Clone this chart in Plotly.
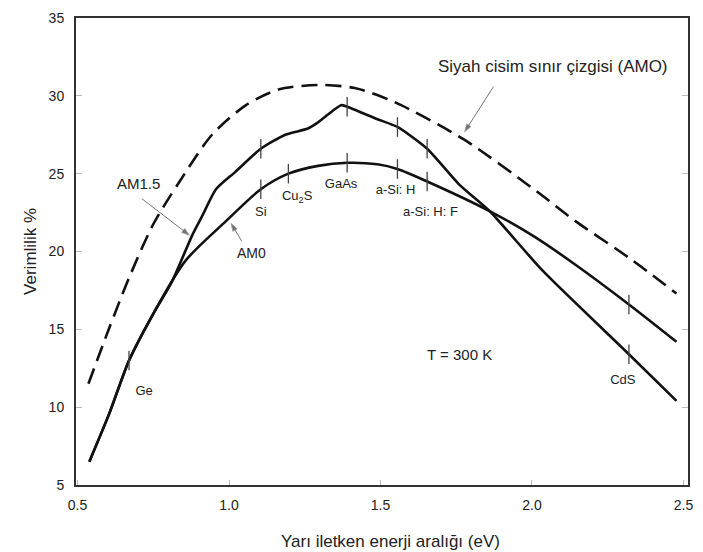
import plotly.graph_objects as go

# Blackbody limit (AM0) - dashed
bb_x = [0.536, 0.605, 0.67, 0.75, 0.837, 0.944, 1.056, 1.163, 1.294, 1.415, 1.546, 1.775, 2.013, 2.14, 2.32, 2.477]
bb_y = [11.5, 15.1, 18.3, 21.75, 24.5, 27.5, 29.4, 30.4, 30.7, 30.5, 29.6, 27.2, 23.9, 22.0, 19.6, 17.3]

# AM0 curve (smooth lower one)
am0_x = [0.539, 0.605, 0.67, 0.75, 0.856, 0.99, 1.105, 1.196, 1.294, 1.39, 1.49, 1.556, 1.654, 1.86, 2.0, 2.14, 2.32, 2.477]
am0_y = [6.5, 9.6, 13.0, 16.0, 19.4, 21.95, 24.0, 25.0, 25.5, 25.7, 25.6, 25.3, 24.5, 22.6, 21.05, 19.2, 16.6, 14.2]

# AM1.5 curve
am15_x = [0.539, 0.605, 0.67, 0.75, 0.81, 0.88, 0.912, 0.957, 1.02, 1.105, 1.186, 1.26, 1.294, 1.37, 1.39, 1.49, 1.556, 1.654, 1.76, 1.86, 2.036, 2.32, 2.477]
am15_y = [6.5, 9.6, 13.0, 16.0, 18.0, 21.1, 22.3, 24.0, 25.1, 26.6, 27.5, 27.9, 28.3, 29.4, 29.3, 28.5, 28.0, 26.6, 24.3, 22.6, 18.75, 13.4, 10.4]

# Material tick marks on curves
tick15_x = [0.67, 1.105, 1.39, 1.556, 1.654, 2.32]
tick15_y = [13.0, 26.6, 29.3, 28.0, 26.6, 13.4]
tick0_x = [1.105, 1.196, 1.39, 1.556, 1.654, 2.32]
tick0_y = [24.0, 25.0, 25.7, 25.3, 24.5, 16.6]

# Material labels
mat_labels = ["Ge", "Si", "Cu<sub>2</sub>S", "GaAs", "a-Si: H", "a-Si: H: F", "CdS"]
mat_x = [0.72, 1.105, 1.225, 1.37, 1.55, 1.665, 2.30]
mat_y = [11.0, 22.5, 23.5, 24.3, 23.9, 22.5, 11.7]

# Annotation texts and arrows (tail -> tip)
note_texts = ["T = 300 K", "Siyah cisim sınır çizgisi (AMO)", "AM1.5", "AM0"]
note_x = [1.76, 2.07, 0.70, 1.075]
note_y = [13.4, 31.9, 24.4, 19.9]
arrow_bb_x = [1.873, 1.778]
arrow_bb_y = [30.59, 27.7]
arrow_am15_x = [0.712, 0.869]
arrow_am15_y = [23.4, 21.05]
arrow_am0_x = [1.042, 1.007]
arrow_am0_y = [20.67, 21.8]

x_title = "Yarı iletken enerji aralığı (eV)"
y_title = "Verimlilik %"
x_ticks = [0.5, 1.0, 1.5, 2.0, 2.5]
x_tick_text = ["0.5", "1.0", "1.5", "2.0", "2.5"]
y_ticks = [5, 10, 15, 20, 25, 30, 35]

FONT = "Liberation Sans, Arial, sans-serif"
TXT = "#222222"

fig = go.Figure()
fig.add_trace(go.Scatter(x=bb_x, y=bb_y, mode="lines",
                         line=dict(color="#111111", width=2.6, dash="16px,8px", shape="spline", smoothing=0.8),
                         hoverinfo="skip", showlegend=False))
fig.add_trace(go.Scatter(x=am0_x, y=am0_y, mode="lines",
                         line=dict(color="#111111", width=2.6, shape="spline", smoothing=0.8),
                         hoverinfo="skip", showlegend=False))
fig.add_trace(go.Scatter(x=am15_x, y=am15_y, mode="lines",
                         line=dict(color="#111111", width=2.6, shape="spline", smoothing=0.6),
                         hoverinfo="skip", showlegend=False))
for tx, ty in ((tick15_x, tick15_y), (tick0_x, tick0_y)):
    fig.add_trace(go.Scatter(x=tx, y=ty, mode="markers",
                             marker=dict(symbol="line-ns", size=14, line=dict(color="#444444", width=1.3)),
                             hoverinfo="skip", showlegend=False))
fig.add_trace(go.Scatter(x=mat_x, y=mat_y, mode="text", text=mat_labels,
                         textfont=dict(family=FONT, size=13, color=TXT),
                         hoverinfo="skip", showlegend=False))

for ax_, ay_ in ((arrow_bb_x, arrow_bb_y), (arrow_am15_x, arrow_am15_y), (arrow_am0_x, arrow_am0_y)):
    fig.add_trace(go.Scatter(x=ax_, y=ay_, mode="lines+markers",
                             line=dict(color="#777777", width=1),
                             marker=dict(symbol="arrow", angleref="previous", size=[0, 8], color="#333333"),
                             hoverinfo="skip", showlegend=False))

note_sizes = [15, 17, 15, 14]
annotations = []
for t, nx, ny, s in zip(note_texts, note_x, note_y, note_sizes):
    annotations.append(dict(x=nx, y=ny, text=t, showarrow=False, xref="x", yref="y",
                            font=dict(family=FONT, size=s, color=TXT)))
annotations += [
    dict(x=0.514, y=-0.1215, xref="paper", yref="paper", yanchor="middle",
         text=x_title, showarrow=False,
         font=dict(family=FONT, size=17, color=TXT)),
    dict(x=-0.0745, y=0.5, xref="paper", yref="paper", textangle=-90, xanchor="center",
         text=y_title, showarrow=False,
         font=dict(family=FONT, size=17, color=TXT)),
]

fig.update_layout(
    width=703, height=552,
    margin=dict(l=76, r=10, t=16, b=67),
    paper_bgcolor="white", plot_bgcolor="white",
    annotations=annotations,
    xaxis=dict(range=[0.495, 2.515], tickvals=x_ticks, ticktext=x_tick_text,
               showgrid=False, zeroline=False, showline=True, mirror=True,
               linecolor="#333333", linewidth=2, ticks="inside", ticklen=5, tickcolor="#bbbbbb",
               ticklabelstandoff=6,
               tickfont=dict(family=FONT, size=14, color=TXT)),
    yaxis=dict(range=[5, 35], tickvals=y_ticks,
               showgrid=False, zeroline=False, showline=True, mirror="ticks",
               linecolor="#333333", linewidth=2, ticks="inside", ticklen=6, tickcolor="#bbbbbb",
               ticklabelstandoff=7,
               tickfont=dict(family=FONT, size=14, color=TXT)),
)

fig.write_html("out.html")
